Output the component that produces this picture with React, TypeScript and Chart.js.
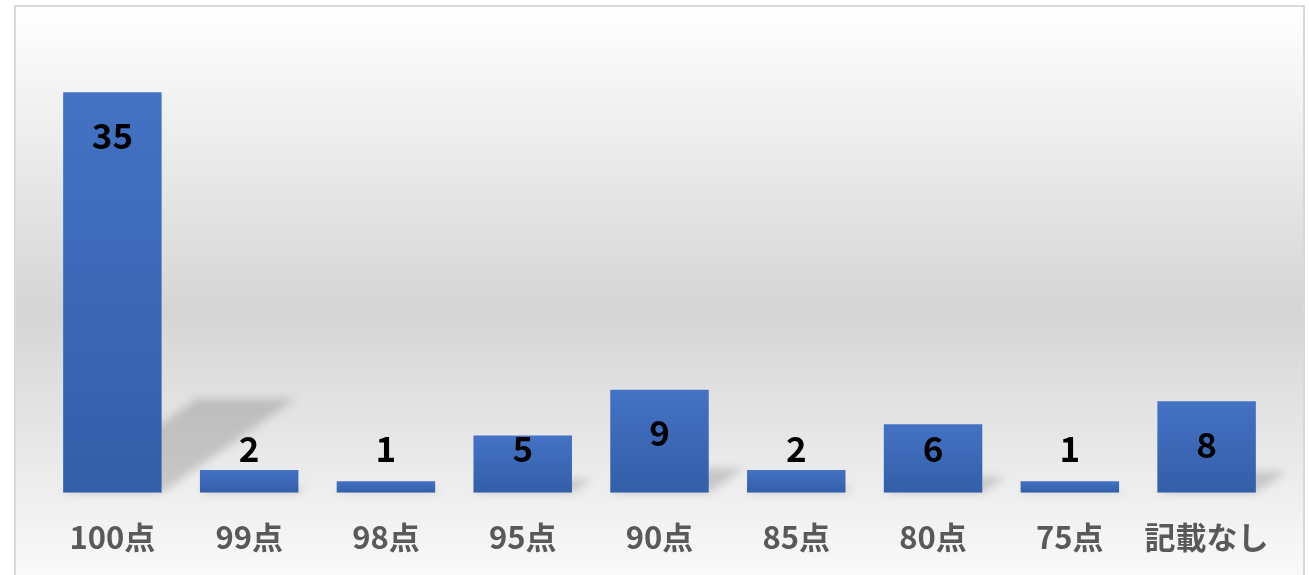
import React, { useEffect, useRef } from "react";
import { Chart, registerables } from "chart.js";

Chart.register(...registerables);

const categories = ["100点", "99点", "98点", "95点", "90点", "85点", "80点", "75点", "記載なし"];
const counts = [35, 2, 1, 5, 9, 2, 6, 1, 8];
const yMax = 40;

const FONT = '"Noto Sans CJK JP", "Noto Sans", sans-serif';

const shadowPlugin = {
  id: "perspectiveShadow",
  beforeDatasetsDraw(chart: any) {
    const ctx = chart.ctx;
    const meta = chart.getDatasetMeta(0);
    ctx.save();
    ctx.filter = "blur(4px)";
    ctx.fillStyle = "rgba(0,0,0,0.16)";
    meta.data.forEach((bar: any) => {
      const h = bar.base - bar.y;
      const sh = h * 0.235;
      const dx = sh * 1.42;
      const l = bar.x - bar.width / 2;
      const r = bar.x + bar.width / 2;
      ctx.beginPath();
      ctx.moveTo(l, bar.base);
      ctx.lineTo(r, bar.base);
      ctx.lineTo(r + dx, bar.base - sh);
      ctx.lineTo(l + dx, bar.base - sh);
      ctx.closePath();
      ctx.fill();
    });
    ctx.restore();
  },
};

const labelPlugin = {
  id: "barLabels",
  afterDatasetsDraw(chart: any) {
    const ctx = chart.ctx;
    const meta = chart.getDatasetMeta(0);
    const data = chart.data.datasets[0].data;
    ctx.save();
    ctx.fillStyle = "#000000";
    ctx.font = `bold 35px ${FONT}`;
    ctx.textAlign = "center";
    ctx.textBaseline = "middle";
    meta.data.forEach((bar: any, i: number) => {
      const cy = Math.min(bar.y + 43, bar.base - 44);
      ctx.fillText(String(data[i]), bar.x, cy);
    });
    ctx.restore();
  },
};

export default function App() {
  const canvasRef = useRef<HTMLCanvasElement>(null);

  useEffect(() => {
    const canvas = canvasRef.current;
    if (!canvas) return;
    const chart = new Chart(canvas, {
      type: "bar",
      data: {
        labels: categories,
        datasets: [
          {
            data: counts,
            barPercentage: 0.72,
            categoryPercentage: 1,
            backgroundColor: (c: any) => {
              const ch = c.chart;
              const ys = ch.scales?.y;
              if (!ys || !ch.chartArea) return "#4472c4";
              const v = ch.data.datasets[0].data[c.dataIndex];
              const top = ys.getPixelForValue(v);
              const base = ys.getPixelForValue(0);
              const g = ch.ctx.createLinearGradient(0, top, 0, base);
              g.addColorStop(0, "#4472c4");
              g.addColorStop(1, "#335ea8");
              return g;
            },
          },
        ],
      },
      options: {
        animation: false,
        responsive: true,
        maintainAspectRatio: false,
        layout: { padding: { top: 28, left: 28, right: 28, bottom: 0 } },
        plugins: { legend: { display: false }, tooltip: { enabled: false } },
        scales: {
          x: {
            grid: { display: false, drawTicks: false },
            border: { display: false },
            ticks: {
              color: "#595959",
              padding: 26,
              font: { family: FONT, size: 31, weight: "bold" },
            },
          },
          y: {
            display: false,
            min: 0,
            max: yMax,
          },
        },
      },
      plugins: [shadowPlugin, labelPlugin],
    });
    return () => chart.destroy();
  }, []);

  return (
    <div
      style={{
        position: "fixed",
        left: 0,
        top: 0,
        width: 1309,
        height: 575,
        overflow: "hidden",
        background: "#ffffff",
      }}
    >
      <div
        style={{
          position: "absolute",
          left: 14,
          top: 5,
          width: 1291,
          height: 612,
          boxSizing: "border-box",
          border: "2px solid #d9d9d9",
          background: "linear-gradient(to bottom, #ffffff 0%, #d5d5d5 50%, #ffffff 100%)",
          overflow: "hidden",
        }}
      >
        <div style={{ position: "absolute", left: 0, top: 0, width: 1287, height: 575 }}>
          <canvas ref={canvasRef} />
        </div>
      </div>
    </div>
  );
}
